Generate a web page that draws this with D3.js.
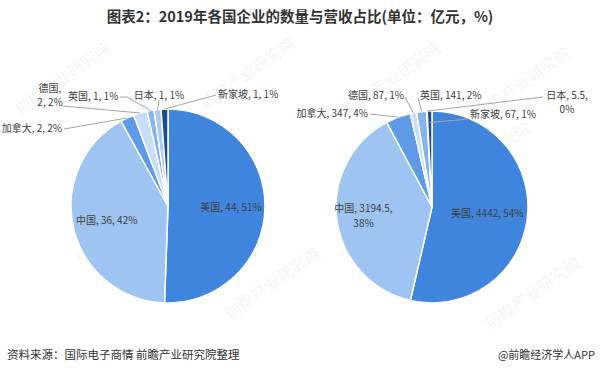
<!DOCTYPE html>
<html>
<head>
<meta charset="utf-8">
<script src="https://cdn.jsdelivr.net/npm/d3@7"></script>
<style>
  body { margin: 0; background: #fff; }
  svg { display: block; font-family: "Noto Sans CJK SC", "Noto Sans", sans-serif; }
</style>
</head>
<body>
<svg id="chart" width="600" height="373"></svg>
<script>
// data
var countries   = ["美国", "中国", "加拿大", "德国", "英国", "日本", "新家坡"];
var countNum    = [44, 36, 2, 2, 1, 1, 1];
var countPct    = [51, 42, 2, 2, 1, 1, 1];
var revenueNum  = [4442, 3194.5, 347, 87, 141, 5.5, 67];
var revenuePct  = [54, 38, 4, 1, 2, 0, 1];

var colors = ["#3f85dd", "#9ec4f1", "#5d9be6", "#c8ddf7", "#86b4ec", "#a9cbf3", "#1d4c8c"];

// label layout (positions only)
var leftLayout = {
  "美国":   {inside: true, k: 0.65},
  "中国":   {inside: true, k: 0.65},
  "加拿大": {x: 62,  y: 128, anchor: "end",    from: [64, 129]},
  "德国":   {x: 50,  y: 88,  anchor: "middle", wrap: 1, from: [63, 106]},
  "英国":   {x: 68,  y: 96,  anchor: "start",  from: [120, 97], elbow: [127, 97]},
  "日本":   {x: 159, y: 95,  anchor: "middle", from: [159, 100]},
  "新家坡": {x: 218, y: 94,  anchor: "start",  from: [216, 95]}
};
var rightLayout = {
  "美国":   {inside: true, k: 0.58},
  "中国":   {inside: true, k: 0.72, wrap: 2},
  "加拿大": {x: 368, y: 113, anchor: "end",    from: [370, 114]},
  "德国":   {x: 376, y: 95,  anchor: "middle", from: [405, 97]},
  "英国":   {x: 420, y: 95,  anchor: "start",  from: [418, 97]},
  "日本":   {x: 567, y: 95,  anchor: "middle", wrap: 2, from: [543, 97]},
  "新家坡": {x: 470, y: 114, anchor: "start",  from: [468, 119], k: 0.88}
};

var svg = d3.select("#chart");

// faint watermarks, kept inside the frame
var marks = [[20, 115], [205, 110], [80, 265], [350, 115], [480, 120], [440, 195], [230, 320], [490, 330]];
svg.selectAll(".wm").data(marks).enter().append("text")
  .attr("class", "wm")
  .attr("transform", function(d){ return "translate(" + d + ") rotate(-35)"; })
  .attr("font-size", 16).attr("font-weight", "bold")
  .attr("fill", "#000").attr("fill-opacity", 0.04)
  .text("前瞻产业研究院");

// title
svg.append("text")
  .attr("x", 300).attr("y", 22)
  .attr("text-anchor", "middle")
  .attr("font-size", 14.5).attr("font-weight", "bold")
  .attr("fill", "#333")
  .text("图表2：2019年各国企业的数量与营收占比(单位：亿元，%)");

function drawPie(values, pcts, cx, cy, r, layout){
  var rows = countries.map(function(c, i){
    return {name: c, value: values[i], pct: pcts[i], color: colors[i]};
  });
  var pie = d3.pie().sort(null).value(function(d){ return d.value; });
  var arc = d3.arc().innerRadius(0).outerRadius(r);
  var arcs = pie(rows);

  var g = svg.append("g").attr("transform", "translate(" + [cx, cy] + ")");

  g.selectAll("path").data(arcs).enter().append("path")
    .attr("d", arc)
    .attr("fill", function(d){ return d.data.color; })
    .attr("stroke", "#fff")
    .attr("stroke-width", 1.5);

  arcs.forEach(function(a){
    var L = layout[a.data.name];
    var mid = (a.startAngle + a.endAngle) / 2;
    var parts = [a.data.name, a.data.value, a.data.pct + "%"];
    var lines = [parts.join(", ")];
    if (L.wrap) {
      lines = [parts.slice(0, L.wrap).join(", ") + ",", parts.slice(L.wrap).join(", ")];
    }

    if (L.inside) {
      var rr = r * L.k;
      var tx = Math.sin(mid) * rr, ty = -Math.cos(mid) * rr;
      var t = g.append("text")
        .attr("text-anchor", "middle")
        .attr("font-size", 10).attr("fill", "#404040");
      lines.forEach(function(s, i){
        t.append("tspan").attr("x", tx)
          .attr("y", ty + 3.5 + (i - (lines.length - 1) / 2) * 15)
          .text(s);
      });
      return;
    }

    var kk = L.k || 1;
    var p = [cx + Math.sin(mid) * r * kk, cy - Math.cos(mid) * r * kk];
    var pts = [L.from];
    if (L.elbow) pts.push(L.elbow);
    pts.push(p);
    svg.append("path")
      .attr("d", d3.line()(pts))
      .attr("fill", "none")
      .attr("stroke", "#a6a6a6")
      .attr("stroke-width", 1);

    var t2 = svg.append("text")
      .attr("text-anchor", L.anchor)
      .attr("font-size", 10).attr("fill", "#404040");
    lines.forEach(function(s, i){
      t2.append("tspan").attr("x", L.x).attr("y", L.y + 3.5 + i * 14).text(s);
    });
  });
}

drawPie(countNum, countPct, 168, 206, 97, leftLayout);
drawPie(revenueNum, revenuePct, 432, 207, 96, rightLayout);

// footer
svg.append("text")
  .attr("x", 7).attr("y", 359)
  .attr("font-size", 11.5).attr("fill", "#333")
  .text("资料来源：国际电子商情 前瞻产业研究院整理");
svg.append("text")
  .attr("x", 595).attr("y", 359)
  .attr("text-anchor", "end")
  .attr("font-size", 11).attr("fill", "#333")
  .text("@前瞻经济学人APP");
</script>
</body>
</html>
